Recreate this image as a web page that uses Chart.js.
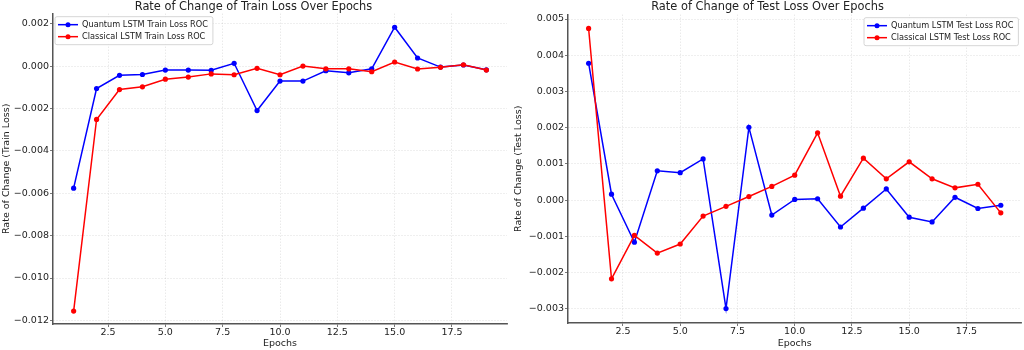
<!DOCTYPE html>
<html>
<head>
<meta charset="utf-8">
<script src="https://cdn.jsdelivr.net/npm/chart.js@4/dist/chart.umd.min.js"></script>
<style>
  body { margin: 0; background: #fff; }
  #wrap { display: flex; width: 1024px; height: 350px; }
  .box { position: relative; width: 512px; height: 350px; }
</style>
</head>
<body>
<div id="wrap">
  <div class="box"><canvas id="trainChart"></canvas></div>
  <div class="box"><canvas id="testChart"></canvas></div>
</div>
<script>
// datos
var epochs = [1, 2, 3, 4, 5, 6, 7, 8, 9, 10, 11, 12, 13, 14, 15, 16, 17, 18, 19];

var quantumTrainRoc = [-0.00576, -0.00106, -0.00044, -0.0004, -0.00019, -0.00019, -0.0002, 0.00013, -0.0021, -0.00071,
                       -0.00071, -0.00022, -0.00032, -0.00013, 0.00183, 0.00038, -0.00005, 0.00005, -0.00018];
var classicalTrainRoc = [-0.01156, -0.00252, -0.00111, -0.00098, -0.00062, -0.00052, -0.00037, -0.00041, -0.00011, -0.00041,
                         0.0, -0.00013, -0.00013, -0.00027, 0.00019, -0.00014, -0.00006, 0.00006, -0.00019];

var quantumTestRoc = [0.00378, 0.000165, -0.00116, 0.00081, 0.00076, 0.00114, -0.00299, 0.00201, -0.00041, 0.00002,
                      0.00004, -0.00074, -0.00022, 0.00031, -0.00047, -0.0006, 0.00008, -0.00023, -0.00014];
var classicalTestRoc = [0.00474, -0.00217, -0.00097, -0.00146, -0.00121, -0.00044, -0.00017, 0.0001, 0.00038, 0.00069,
                        0.00186, 0.00011, 0.00116, 0.00059, 0.00106, 0.00059, 0.00034, 0.00044, -0.00035];

var xTicks = [2.5, 5.0, 7.5, 10.0, 12.5, 15.0, 17.5];
var trainYTicks = [-0.012, -0.010, -0.008, -0.006, -0.004, -0.002, 0.000, 0.002];
var testYTicks = [-0.003, -0.002, -0.001, 0.000, 0.001, 0.002, 0.003, 0.004, 0.005];

var FONT = '"DejaVu Sans", sans-serif';
var AXIS_SIZE = 9.5;

function toPoints(values) {
    return epochs.map(function(e, i) { return { x: e, y: values[i] }; });
}

function fmtY(v) {
    return (v < -1e-9 ? '\u2212' : '') + Math.abs(v).toFixed(3);
}

// leyenda dibujada dentro del area del grafico (como matplotlib)
var boxLegend = {
    id: 'boxLegend',
    afterDatasetsDraw: function(chart, args, opts) {
        var ctx = chart.ctx;
        var area = chart.chartArea;
        var dsets = chart.data.datasets;
        ctx.save();
        ctx.font = opts.fontSize + 'px ' + FONT;
        var maxW = 0;
        dsets.forEach(function(ds) { maxW = Math.max(maxW, ctx.measureText(ds.label).width); });
        var w = maxW + 32, h = 28;
        var x = opts.align === 'right' ? area.right - w - 3 : area.left + 2;
        var y = area.top + 3;

        ctx.beginPath();
        ctx.roundRect(x, y, w, h, 2);
        ctx.fillStyle = 'rgba(255,255,255,0.85)';
        ctx.fill();
        ctx.strokeStyle = '#cccccc';
        ctx.lineWidth = 0.8;
        ctx.stroke();

        dsets.forEach(function(ds, i) {
            var ly = y + 8 + i * 12;
            ctx.strokeStyle = ds.borderColor;
            ctx.lineWidth = 1.5;
            ctx.beginPath();
            ctx.moveTo(x + 3, ly);
            ctx.lineTo(x + 23, ly);
            ctx.stroke();
            ctx.fillStyle = ds.borderColor;
            ctx.beginPath();
            ctx.arc(x + 13, ly, 2.5, 0, Math.PI * 2);
            ctx.fill();
            ctx.fillStyle = '#222';
            ctx.textBaseline = 'middle';
            ctx.textAlign = 'left';
            ctx.fillText(ds.label, x + 27, ly + 0.5);
        });
        ctx.restore();
    }
};

function makeChart(canvasId, cfg) {
    var ctx = document.getElementById(canvasId).getContext('2d');
    return new Chart(ctx, {
        type: 'line',
        data: {
            datasets: [
                {
                    label: cfg.quantumLabel,
                    data: toPoints(cfg.quantum),
                    borderColor: '#0000ff',
                    backgroundColor: '#0000ff',
                    borderWidth: 1.5,
                    pointRadius: 2.6,
                    pointHoverRadius: 2.6,
                    pointBorderWidth: 0,
                    tension: 0,
                    fill: false,
                    order: 1
                },
                {
                    label: cfg.classicalLabel,
                    data: toPoints(cfg.classical),
                    borderColor: '#ff0000',
                    backgroundColor: '#ff0000',
                    borderWidth: 1.5,
                    pointRadius: 2.6,
                    pointHoverRadius: 2.6,
                    pointBorderWidth: 0,
                    tension: 0,
                    fill: false,
                    order: 0
                }
            ]
        },
        options: {
            responsive: true,
            maintainAspectRatio: false,
            animation: false,
            layout: { padding: { left: 0, right: cfg.padRight, top: 0, bottom: 0 } },
            scales: {
                x: {
                    type: 'linear',
                    min: 0.1,
                    max: 19.9,
                    afterBuildTicks: function(s) { s.ticks = xTicks.map(function(v) { return { value: v }; }); },
                    afterFit: function(s) { s.height = cfg.xHeight; },
                    ticks: {
                        font: { family: FONT, size: AXIS_SIZE },
                        color: '#222',
                        padding: 0,
                        maxRotation: 0,
                        callback: function(v) { return Number(v).toFixed(1); }
                    },
                    grid: { color: 'rgba(0,0,0,0.16)', lineWidth: 0.8, tickLength: 3, tickColor: '#555' },
                    border: { color: '#555', width: 1.5, dash: [1, 2] },
                    title: { display: true, text: 'Epochs', font: { family: FONT, size: AXIS_SIZE }, color: '#222', padding: { top: 0, bottom: 1 } }
                },
                y: {
                    type: 'linear',
                    min: cfg.yMin,
                    max: cfg.yMax,
                    afterBuildTicks: function(s) { s.ticks = cfg.yTicks.map(function(v) { return { value: v }; }); },
                    afterFit: function(s) { s.width = cfg.yWidth; },
                    ticks: {
                        font: { family: FONT, size: AXIS_SIZE },
                        color: '#222',
                        padding: 1,
                        callback: function(v) { return fmtY(v); }
                    },
                    grid: { color: 'rgba(0,0,0,0.16)', lineWidth: 0.8, tickLength: 3, tickColor: '#555' },
                    border: { color: '#555', width: 1.5, dash: [1, 2] },
                    title: { display: true, text: cfg.yTitle, font: { family: FONT, size: AXIS_SIZE }, color: '#222', padding: { top: 1, bottom: 0 } }
                }
            },
            plugins: {
                legend: { display: false },
                tooltip: { enabled: false },
                title: {
                    display: true,
                    text: cfg.title,
                    font: { family: FONT, size: 11.4, weight: 'normal' },
                    color: '#222',
                    padding: { top: 0, bottom: cfg.titlePad }
                },
                boxLegend: { align: cfg.legendAlign, fontSize: 8.2 }
            }
        },
        plugins: [boxLegend]
    });
}

makeChart('trainChart', {
    title: 'Rate of Change of Train Loss Over Epochs',
    quantumLabel: 'Quantum LSTM Train Loss ROC',
    classicalLabel: 'Classical LSTM Train Loss ROC',
    quantum: quantumTrainRoc,
    classical: classicalTrainRoc,
    yTitle: 'Rate of Change (Train Loss)',
    yMin: -0.01217,
    yMax: 0.00247,
    yTicks: trainYTicks,
    yWidth: 53,
    xHeight: 26,
    padRight: 5,
    titlePad: 0,
    legendAlign: 'left'
});

makeChart('testChart', {
    title: 'Rate of Change of Test Loss Over Epochs',
    quantumLabel: 'Quantum LSTM Test Loss ROC',
    classicalLabel: 'Classical LSTM Test Loss ROC',
    quantum: quantumTestRoc,
    classical: classicalTestRoc,
    yTitle: 'Rate of Change (Test Loss)',
    yMin: -0.00339,
    yMax: 0.00512,
    yTicks: testYTicks,
    yWidth: 56,
    xHeight: 27,
    padRight: 1,
    titlePad: 1,
    legendAlign: 'right'
});
</script>
</body>
</html>
